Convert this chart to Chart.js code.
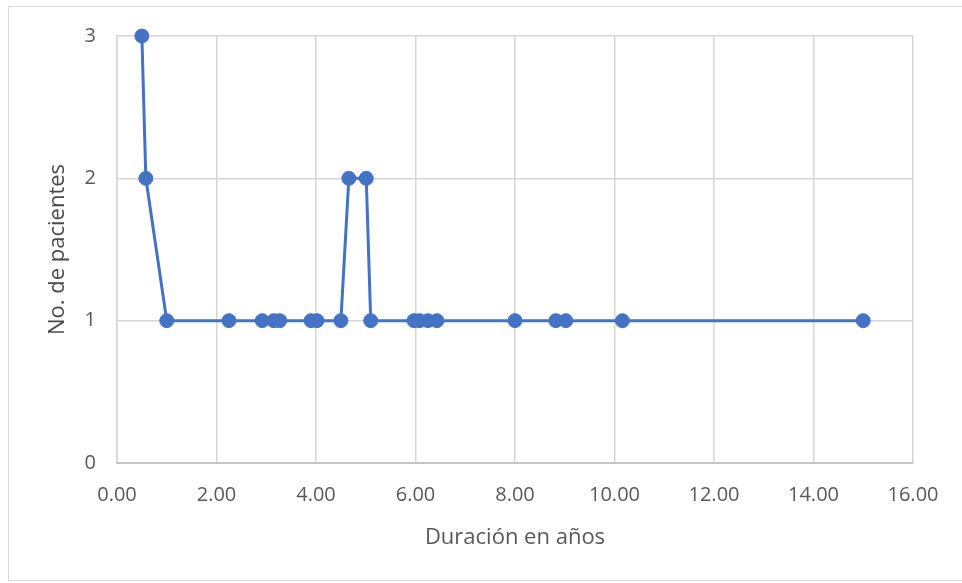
<!DOCTYPE html>
<html>
<head>
<meta charset="utf-8">
<script src="https://cdn.jsdelivr.net/npm/chart.js@4"></script>
<style>
  html, body { margin: 0; padding: 0; background: #ffffff; }
  #wrap { width: 962px; height: 583px; }
</style>
</head>
<body>
<div id="wrap"><canvas id="chart" width="962" height="583"></canvas></div>
<script>
// Duración (años) y número de pacientes por duración
const duracionAnios = [0.50, 0.58, 1.00, 2.25, 2.92, 3.15, 3.27, 3.90, 4.02, 4.50, 4.66, 5.01, 5.10,
                       5.97, 6.08, 6.25, 6.43, 8.00, 8.82, 9.02, 10.16, 15.00];
const numPacientes = [3, 2, 1, 1, 1, 1, 1, 1, 1, 1, 2, 2, 1,
                      1, 1, 1, 1, 1, 1, 1, 1, 1];
const ejeX = { min: 0, max: 16, step: 2 };
const ejeY = { min: 0, max: 3, step: 1 };
const tituloX = 'Duración en años';
const tituloY = 'No. de pacientes';

const puntos = duracionAnios.map((x, i) => ({ x: x, y: numPacientes[i] }));

const FONT = '"Open Sans", "DejaVu Sans", sans-serif';
const GRIS_TEXTO = '#595959';
const GRIS_REJILLA = '#d6d6d6';
const AZUL = '#4472C4';

// Marco exterior del gráfico
const marcoExterior = {
  id: 'marcoExterior',
  beforeDraw(chart) {
    const ctx = chart.ctx;
    ctx.save();
    ctx.fillStyle = '#ffffff';
    ctx.fillRect(0, 0, chart.width, chart.height);
    ctx.strokeStyle = '#d9d9d9';
    ctx.lineWidth = 1;
    ctx.strokeRect(8.5, 6.5, chart.width + 10, 574);
    ctx.restore();
  }
};

new Chart(document.getElementById('chart'), {
  type: 'scatter',
  data: {
    datasets: [{
      data: puntos,
      showLine: true,
      borderColor: AZUL,
      backgroundColor: AZUL,
      borderWidth: 3,
      pointRadius: 7,
      pointHoverRadius: 7,
      pointBorderWidth: 1,
      pointBorderColor: AZUL,
      clip: false
    }]
  },
  options: {
    responsive: false,
    animation: false,
    events: [],
    layout: { padding: { left: 41, top: 36, right: 49, bottom: 20 } },
    plugins: { legend: { display: false }, tooltip: { enabled: false } },
    scales: {
      x: {
        type: 'linear',
        min: ejeX.min, max: ejeX.max,
        afterFit(scale) { scale.height = 583 - 463 - 20; },
        ticks: {
          stepSize: ejeX.step,
          padding: 20,
          color: GRIS_TEXTO,
          font: { family: FONT, size: 20 },
          callback: v => Number(v).toFixed(2)
        },
        grid: { color: GRIS_REJILLA, lineWidth: 1.5, drawTicks: false },
        border: { color: '#c4c4c4', width: 2 },
        title: {
          display: true, text: tituloX, color: GRIS_TEXTO,
          font: { family: FONT, size: 22 }, padding: { top: 0, bottom: 12 }
        }
      },
      y: {
        type: 'linear',
        min: ejeY.min, max: ejeY.max,
        afterFit(scale) { scale.width = 117 - 41; },
        ticks: {
          stepSize: ejeY.step,
          padding: 21,
          color: GRIS_TEXTO,
          font: { family: FONT, size: 20 },
          callback: v => String(v)
        },
        grid: { color: GRIS_REJILLA, lineWidth: 1.5, drawTicks: false },
        border: { color: GRIS_REJILLA, width: 1.5 },
        title: {
          display: true, text: tituloY, color: '#4a4a4a',
          font: { family: FONT, size: 22 }, padding: { top: 4, bottom: 0 }
        }
      }
    }
  },
  plugins: [marcoExterior]
});
</script>
</body>
</html>
